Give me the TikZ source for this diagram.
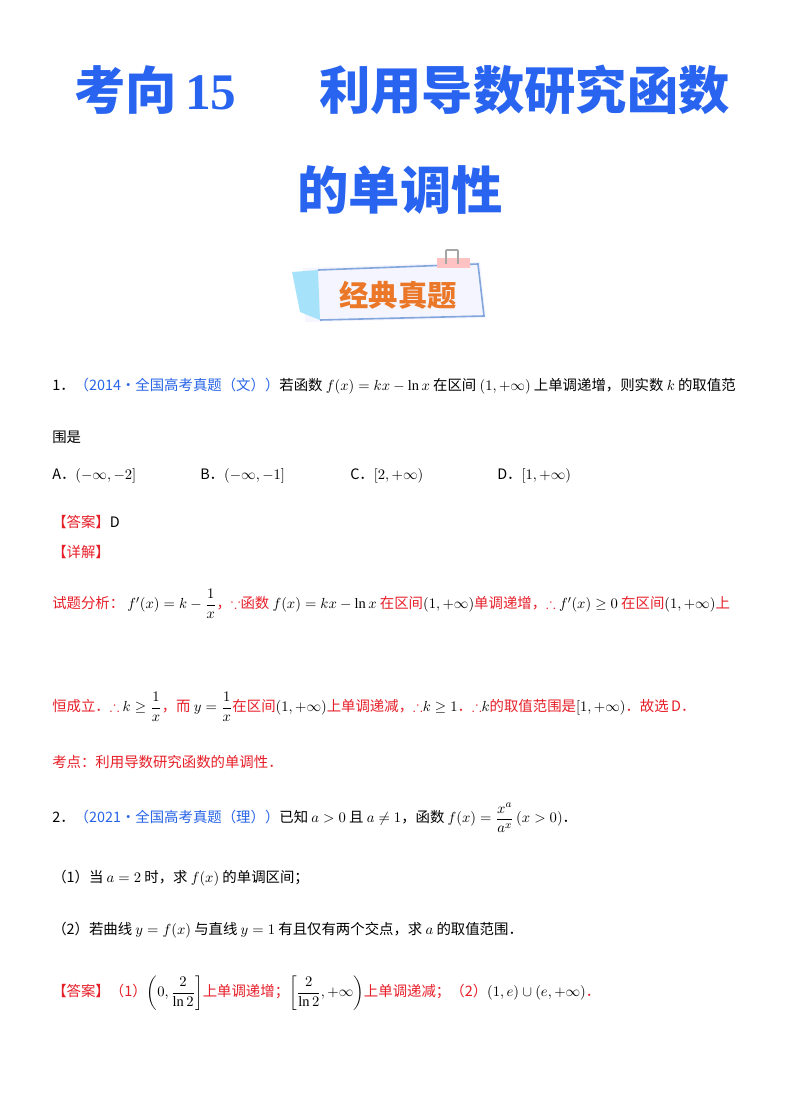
\documentclass[tikz,border=0pt]{standalone}
\usepackage{amsmath,amssymb}
\usepackage{fontspec}
\setmainfont{Liberation Serif}
\newfontfamily\cjk{Noto Sans CJK SC}
\definecolor{ttl}{RGB}{40,100,240}
\definecolor{rd}{RGB}{230,30,40}
\definecolor{qb}{RGB}{40,100,230}
\definecolor{org}{RGB}{235,120,40}
\tikzset{t/.style={anchor=west,inner sep=0pt,font=\cjk\fontsize{10.8}{12}\selectfont},
 ttlstyle/.style={inner sep=0pt,text=ttl,font=\cjk\bfseries\fontsize{38.5}{40}\selectfont}}
\begin{document}
\begin{tikzpicture}[x=0.75pt,y=-0.75pt]
\useasboundingbox (0,0) rectangle (800,1109);
\node[ttlstyle] (t1) at (402,90) {考向\,{\rmfamily\bfseries 15}\hspace{62pt}利用导数研究函数};
\node[ttlstyle] (t2) at (400,190) {的单调性};
% banner
\fill[blue!4] (303,268) -- (480,262) -- (486,318) -- (305,322) -- cycle;
\draw[cyan!50!blue!50,line width=1.2pt] (318,270) -- (478,264) -- (484,316) -- (320,320);
\fill[cyan!35] (292,272) -- (318,270) -- (320,320) -- (300,312) -- cycle;
\fill[pink!80!red!60] (437,258) rectangle (470,268);
\draw[gray!70,line width=0.8pt] (446,250) -- (446,264) (458,250) -- (458,264) (446,250) -- (458,250);
\node[inner sep=0pt,text=org,font=\cjk\bfseries\fontsize{22}{24}\selectfont] (bn) at (398,295) {经典真题};
% Q1
\node[t] (q1) at (52,386) {1．{\color{qb}（2014•全国高考真题（文））}若函数\ $f(x)=kx-\ln x$\ 在区间\ $(1,+\infty)$\ 上单调递增，则实数\ $k$\ 的取值范};
\node[t] (q1b) at (52,437) {围是};
\node[t] (oa) at (52,476) {A．$(-\infty,-2]$};
\node[t] (ob) at (200,476) {B．$(-\infty,-1]$};
\node[t] (oc) at (350,476) {C．$[2,+\infty)$};
\node[t] (od) at (497,476) {D．$[1,+\infty)$};
\node[t] (ans1) at (52,522) {{\color{rd}【答案】}D};
\node[t,text=rd] (xj) at (52,552) {【详解】};
\node[t,text=rd] (an1) at (52,604) {试题分析：\ {\color{black}$f'(x)=k-\dfrac{1}{x}$}，$\because$函数\ {\color{black}$f(x)=kx-\ln x$}\ 在区间{\color{black}$(1,+\infty)$}单调递增，$\therefore$\ {\color{black}$f'(x)\geq 0$}\ 在区间{\color{black}$(1,+\infty)$}上};
\node[t,text=rd] (an2) at (52,707) {恒成立．$\therefore$\ {\color{black}$k\geq\dfrac{1}{x}$}，而\ {\color{black}$y=\dfrac{1}{x}$}在区间{\color{black}$(1,+\infty)$}上单调递减，$\therefore${\color{black}$k\geq 1$}．$\therefore${\color{black}$k$}的取值范围是{\color{black}$[1,+\infty)$}．故选\,D．};
\node[t,text=rd] (kd) at (52,762) {考点：利用导数研究函数的单调性．};
% Q2
\node[t] (q2) at (52,818) {2．{\color{qb}（2021•全国高考真题（理））}已知\ $a>0$\ 且\ $a\neq 1$，函数\ $f(x)=\dfrac{x^a}{a^x}\,(x>0)$．};
\node[t] (q2a) at (52,878) {（1）当\ $a=2$\ 时，求\ $f(x)$\ 的单调区间；};
\node[t] (q2b) at (52,930) {（2）若曲线\ $y=f(x)$\ 与直线\ $y=1$\ 有且仅有两个交点，求\ $a$\ 的取值范围．};
\node[t,text=rd] (ans2) at (52,993) {【答案】（1）{\color{black}$\left(0,\dfrac{2}{\ln 2}\right]$}上单调递增；{\color{black}$\left[\dfrac{2}{\ln 2},+\infty\right)$}上单调递减；（2）{\color{black}$(1,e)\cup(e,+\infty)$}．};
\end{tikzpicture}
\end{document}
